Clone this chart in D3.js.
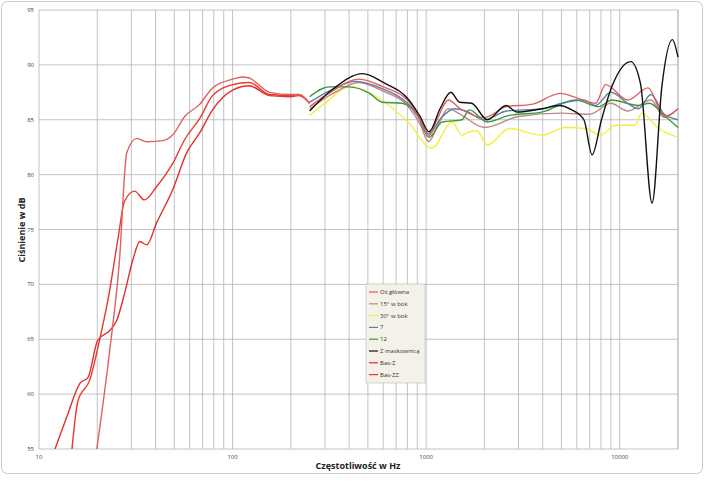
<!DOCTYPE html>
<html><head><meta charset="utf-8">
<script src="https://cdn.jsdelivr.net/npm/d3@7"></script>
<style>body{margin:0;background:#fff;font-family:"Open Sans",sans-serif}</style>
</head><body><svg id="c" width="705" height="481"></svg>
<script>
const seriesNames=["Oś główna","15° w bok","30° w bok","7","12","Z maskownicą","Bas-Z","Bas-ZZ"];
const seriesColors=["#e06060","#c08888","#f0f040","#5a7fa0","#3a9a3a","#111111","#e03030","#e83a2a"];
const osGlowna=[[250,86.2],[320,87.5],[450,88.7],[600,88],[800,86.8],[930,85],[1030,83.5],[1150,85.2],[1300,86.8],[1500,86],[2000,85.2],[2600,86.2],[3500,86.4],[4950,87.4],[6000,87],[7500,86.5],[8450,88.2],[11000,86.8],[14000,87.9],[17000,85.3],[20000,86]];
const bok15=[[250,86],[330,87.4],[450,88.4],[600,87.6],[800,86.3],[930,84.6],[1030,83],[1150,84.5],[1300,86],[1500,85.5],[2000,84.3],[3000,85.3],[5000,85.6],[7000,85.5],[9000,86.5],[11000,85.8],[14500,86.8],[17000,85.2],[20000,86]];
const bok30=[[250,85.4],[300,86.5],[400,88],[620,86.5],[815,84.7],[1070,82.4],[1360,84.8],[1530,83.6],[1670,83.9],[1830,84],[2070,82.7],[2690,84.2],[3950,83.6],[5250,84.3],[6700,84.2],[7950,83.6],[9500,84.5],[12000,84.5],[13000,85.6],[15900,84.2],[20000,83.4]];
const s7=[[250,86.6],[330,87.8],[430,88.5],[600,87.8],[800,86.5],[930,85],[1030,83.7],[1200,85.2],[1400,86],[1600,85.8],[2000,85],[2600,85.8],[4000,86],[5000,86.5],[6500,86.8],[7500,86.3],[9000,87.5],[11000,86.5],[12500,86],[14500,87.3],[17000,85.5],[20000,85]];
const s12=[[250,87.1],[316,88],[400,88],[510,87.4],[590,86.6],[750,86.5],[890,85.6],[1036,83.4],[1210,84.8],[1530,85],[1670,85.9],[2070,84.8],[2690,85.4],[3950,85.7],[5920,86.8],[7800,86.2],[9100,86.8],[12500,86.3],[14200,86.5],[17200,85.3],[20000,84.3]];
const maskownica=[[250,85.8],[330,87.8],[470,89.2],[600,88.4],[815,86.8],[930,85.3],[1036,83.9],[1180,86],[1340,87.5],[1490,86.6],[1720,86.5],[2070,85],[2590,86.3],[2940,85.7],[3950,86],[4850,86.3],[5650,85.9],[6530,85],[7200,81.8],[8050,85],[9100,88],[11400,90.3],[12800,88.3],[14700,77.4],[16500,88],[18700,92.3],[20000,90.7]];
const basZ=[[12.1,55],[13.9,57.9],[16.3,61],[17.9,61.5],[20.1,64.9],[23.2,65.8],[25.2,66.7],[27.7,69.2],[30.5,72.2],[33.2,73.9],[36,73.6],[40.5,75.6],[49,78.6],[58,82],[67.6,83.8],[78.8,85.9],[100,87.7],[122,88.1],[155,87.2],[200,87.1],[220,87.2],[250,86.5]];
const basZZ=[[14.8,55],[15.9,59.4],[18.3,61.3],[20.6,65],[23.2,69.5],[25.5,74],[27.7,77.6],[31.2,78.5],[35,77.7],[40.5,78.9],[49,81],[56.6,83.2],[67.6,85.1],[78.8,87.2],[100,88.2],[122,88.4],[155,87.3],[200,87.2],[220,87.3],[250,86.5]];
const basOs=[[19.9,55],[23.2,64],[26,72],[28.4,82],[32,83.3],[36,83],[43.7,83.1],[49,83.6],[56.6,85.3],[67.6,86.4],[78.8,87.9],[100,88.7],[112,88.9],[122,88.8],[155,87.5],[200,87.3],[220,87.3],[250,86.5]];
const yTicks=[55,60,65,70,75,80,85,90,95];
const xTickLabels=[10,100,1000,10000];

const svg=d3.select("#c");
svg.append("rect").attr("x",1.5).attr("y",1.5).attr("width",701).attr("height",472).attr("rx",6).attr("fill","#fff").attr("stroke","#c8c8c8");
const x=d3.scaleLog().domain([10,20000]).range([39,678]);
const y=d3.scaleLinear().domain([55,95]).range([449,10]);
const g=svg.append("g");
const minor=[];for(let d=10;d<20000;d*=10)for(let k=1;k<10;k++){if(d*k<=20000)minor.push(d*k);}
minor.push(20000);
g.selectAll(".vg").data(minor).join("line").attr("x1",d=>x(d)).attr("x2",d=>x(d)).attr("y1",10).attr("y2",449).attr("stroke","#b4b4b4").attr("stroke-width",0.8);
g.selectAll(".hg").data(yTicks).join("line").attr("x1",39).attr("x2",678).attr("y1",d=>y(d)).attr("y2",d=>y(d)).attr("stroke","#b4b4b4").attr("stroke-width",0.8);
g.selectAll(".yl").data(yTicks).join("text").attr("x",34).attr("y",d=>y(d)+2).attr("text-anchor","end").attr("font-size",6).attr("fill","#444").text(d=>d);
g.selectAll(".xl").data(xTickLabels).join("text").attr("x",d=>x(d)).attr("y",459).attr("text-anchor","middle").attr("font-size",6).attr("fill","#444").text(d=>d);
svg.append("text").attr("x",358).attr("y",469).attr("text-anchor","middle").attr("font-size",9).attr("font-weight","bold").attr("fill","#222").text("Częstotliwość w Hz");
svg.append("text").attr("transform","translate(25,230) rotate(-90)").attr("text-anchor","middle").attr("font-size",9).attr("font-weight","bold").attr("fill","#222").text("Ciśnienie w dB");
const line=d3.line().x(d=>x(d[0])).y(d=>y(d[1])).curve(d3.curveMonotoneX);
const draws=[[basZ,6],[basZZ,7],[basOs,0],[bok30,2],[bok15,1],[s12,4],[s7,3],[osGlowna,0],[maskownica,5]];
draws.forEach(([data,i])=>svg.append("path").attr("d",line(data)).attr("fill","none").attr("stroke",seriesColors[i]).attr("stroke-width",1.4));
const lg=svg.append("g");
lg.append("rect").attr("x",366).attr("y",284).attr("width",59).attr("height",99).attr("fill","#f3f1e8").attr("stroke","#bbb").attr("stroke-width",0.6);
seriesNames.forEach((n,i)=>{const yy=292+i*11.8;
lg.append("line").attr("x1",369).attr("x2",378).attr("y1",yy).attr("y2",yy).attr("stroke",seriesColors[i]).attr("stroke-width",1.2);
lg.append("text").attr("x",380).attr("y",yy+2).attr("font-size",6).attr("fill","#333").text(n);});
</script></body></html>
